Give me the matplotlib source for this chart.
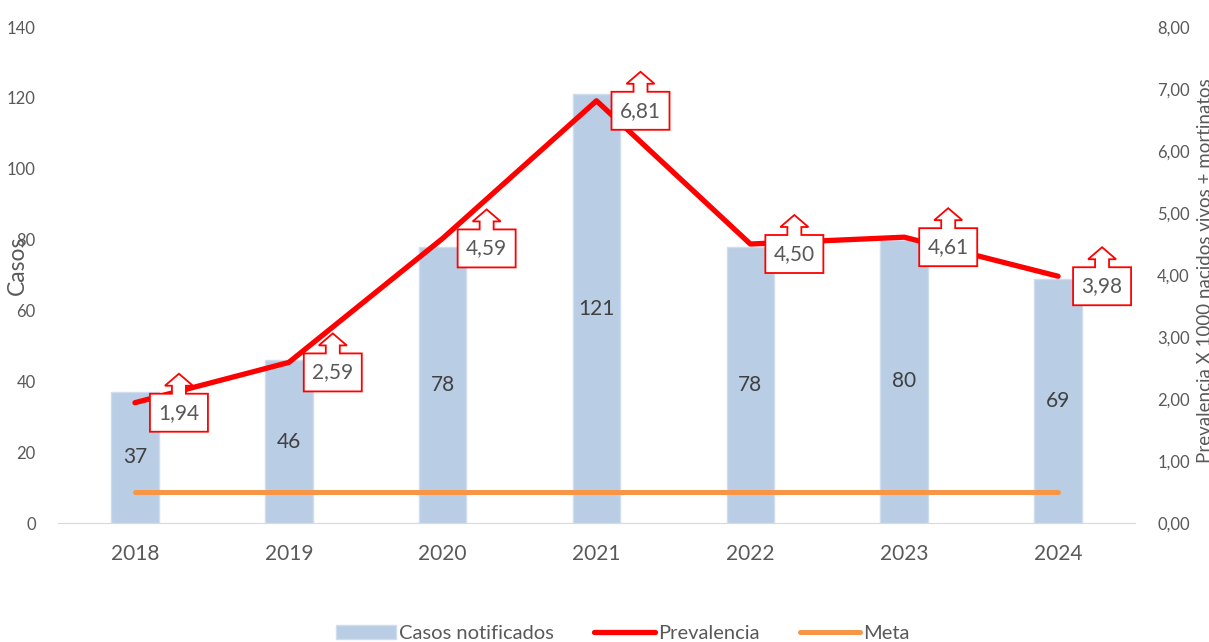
import matplotlib.pyplot as plt
import matplotlib.transforms as mtransforms
from matplotlib.patches import Polygon
from matplotlib.lines import Line2D
from matplotlib.patches import Patch

years = ["2018", "2019", "2020", "2021", "2022", "2023", "2024"]
casos = [37, 46, 78, 121, 78, 80, 69]
prevalencia = [1.94, 2.59, 4.59, 6.81, 4.50, 4.61, 3.98]
meta = [0.5, 0.5, 0.5, 0.5, 0.5, 0.5, 0.5]
prev_labels = ["1,94", "2,59", "4,59", "6,81", "4,50", "4,61", "3,98"]
left_ticks = [0, 20, 40, 60, 80, 100, 120, 140]
right_ticks = [0, 1, 2, 3, 4, 5, 6, 7, 8]

plt.rcParams['font.family'] = ['Lato', 'DejaVu Sans']
gray = "#595959"

fig = plt.figure(figsize=(12.09, 6.42), dpi=100)
ax = fig.add_axes([58 / 1209, 119 / 642, 1077 / 1209, 496 / 642])
ax2 = ax.twinx()

x = list(range(len(years)))
ax.bar(x, casos, width=0.31, color="#B9CDE5", edgecolor="#D0DDEE", linewidth=1, zorder=1)
for xi, c in zip(x, casos):
    ax.text(xi, c / 2, str(c), ha="center", va="center", fontsize=15, color="#404040")

ax.set_xlim(-0.5, 6.5)
ax.set_ylim(0, 140)
ax.set_yticks(left_ticks)
ax.set_yticklabels([str(t) for t in left_ticks], fontsize=12, color=gray)
ax.set_xticks(x)
ax.set_xticklabels(years, fontsize=15, color=gray)
ax.tick_params(axis="x", length=0, pad=15)
ax.tick_params(axis="y", length=0, pad=16)
for s in ["top", "right", "left"]:
    ax.spines[s].set_visible(False)
ax.spines["bottom"].set_color("#D9D9D9")
ax.set_ylabel("Casos", fontsize=16.5, color=gray)
ax.yaxis.set_label_coords(-0.028, 0.52)

ax2.plot(x, meta, color="#F79646", linewidth=3.6, solid_capstyle="round", zorder=2)
ax2.plot(x, prevalencia, color="#FF0000", linewidth=3.8, solid_capstyle="round", zorder=3)
ax2.set_ylim(0, 8)
ax2.set_yticks(right_ticks)
ax2.set_yticklabels(["%d,00" % t for t in right_ticks], fontsize=12, color=gray)
ax2.tick_params(length=0, pad=16)
for s in ["top", "right", "left", "bottom"]:
    ax2.spines[s].set_visible(False)
ax2.set_ylabel("Prevalencia X 1000 nacidos vivos + mortinatos", fontsize=13.5, color=gray)
ax2.yaxis.set_label_coords(1.058, 0.508)

# up-arrow callouts, shape in pixels relative to the data point (y up)
callout = [(15, -29), (15, 9), (37, 9), (37, 17), (30, 17), (44, 29),
           (58, 17), (51, 17), (51, 9), (73, 9), (73, -29)]
callout = [(px / 100, py / 100) for px, py in callout]
for xi, v, lab in zip(x, prevalencia, prev_labels):
    trans = fig.dpi_scale_trans + mtransforms.ScaledTranslation(xi, v, ax2.transData)
    ax2.add_patch(Polygon(callout, closed=True, facecolor="white", edgecolor="#FF0000",
                          linewidth=1.3, transform=trans, zorder=5))
    ax2.text(0.44, -0.10, lab, transform=trans, ha="center", va="center",
             fontsize=15, color=gray, zorder=6)

handles = [Patch(facecolor="#B9CDE5", edgecolor="#D0DDEE"),
           Line2D([0], [0], color="#FF0000", linewidth=3.8, solid_capstyle="round"),
           Line2D([0], [0], color="#F79646", linewidth=3.6, solid_capstyle="round")]
leg = fig.legend(handles, ["Casos notificados", "Prevalencia", "Meta"], loc="lower center",
                 bbox_to_anchor=(0.515, -0.028), ncol=3, frameon=False, fontsize=14.5,
                 handlelength=3.0, handletextpad=0.15, columnspacing=2.0)
for t in leg.get_texts():
    t.set_color(gray)

fig.savefig("out.png", dpi=100)
